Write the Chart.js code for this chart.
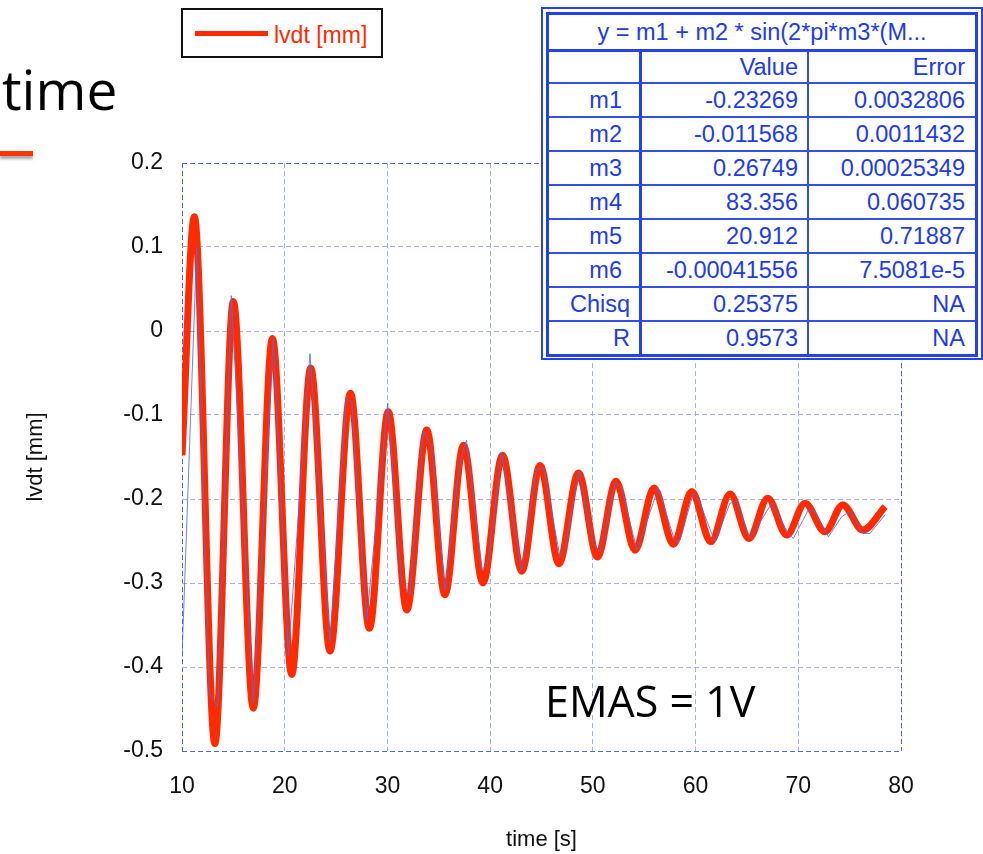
<!DOCTYPE html>
<html>
<head>
<meta charset="utf-8">
<script src="https://cdn.jsdelivr.net/npm/chart.js@4.4.1/dist/chart.umd.min.js"></script>
<style>
html, body { margin: 0; padding: 0; background: #fff; }
#wrap { position: relative; width: 983px; height: 854px; overflow: hidden; background: #fff; }
#chart { position: absolute; left: 0; top: 0; }
#slideTitle { position: absolute; left: 2px; top: 61px; font-family: "Open Sans", sans-serif; font-size: 55px; line-height: 55px; color: #000; white-space: nowrap; }
#slideBar { position: absolute; left: 0; top: 151px; width: 33px; height: 5px; background: #ff3300; box-shadow: 0 3px 3px rgba(0,0,0,0.35); }
#note { position: absolute; left: 545px; top: 679px; font-family: "Open Sans", sans-serif; font-size: 43px; line-height: 43px; color: #000; white-space: nowrap; }
#legend { position: absolute; left: 181px; top: 8px; width: 202px; height: 50px; box-sizing: border-box; border: 2px solid #111; background: #fff; }
#legend .swatch { position: absolute; left: 12px; top: 21px; width: 73px; height: 5px; background: #ff2a00; }
#legend .txt { position: absolute; left: 91px; top: 14px; font-family: "Liberation Sans", Arial, sans-serif; font-size: 23px; line-height: 23px; color: #ff2a00; white-space: nowrap; }
#fitbox { position: absolute; left: 541px; top: 7px; width: 442px; box-sizing: border-box; border: 2px solid #2442e8; padding: 3px 3px 1px 3px; background: #fff; }
#fitbox table { width: 100%; border: 3px solid #2442e8; border-collapse: separate; border-spacing: 0; table-layout: fixed; font-family: "Liberation Sans", Arial, sans-serif; font-size: 23.5px; color: #1e3ce6; }
#fitbox td { box-sizing: border-box; padding: 0 9px 0 0; text-align: right; white-space: nowrap; overflow: hidden; border-bottom: 2px solid #3150ea; }
#fitbox td.c1 { border-right: 3px solid #2442e8; }
#fitbox td.c2 { border-right: 2px solid #3150ea; }
#fitbox td.c3 { padding-right: 10px; }
#fitbox td.head { text-align: center; padding: 0; border-bottom: 3px solid #2442e8; height: 37px; }
#fitbox tr.last td { border-bottom: none; }
</style>
</head>
<body>
<div id="wrap">
  <canvas id="chart" width="983" height="854"></canvas>
  <div id="slideTitle">time</div>
  <div id="slideBar"></div>
  <div id="legend"><div class="swatch"></div><div class="txt">lvdt [mm]</div></div>
  <div id="fitbox"><table id="fitTable"></table></div>
  <div id="note">EMAS = 1V</div>
</div>
<script>
// ---- fitted curve (thick red) at extremes ----
const fitTime = [10.0, 11.2, 13.2, 15.0, 16.94, 18.8, 20.68, 22.53, 24.41, 26.4, 28.24, 30.08, 31.88, 33.83, 35.6, 37.4, 39.3, 41.2, 43.08, 44.86, 46.7, 48.6, 50.44, 52.26, 54.1, 55.96, 57.84, 59.63, 61.48, 63.36, 65.2, 67.03, 68.88, 70.66, 72.6, 74.33, 76.28, 78.45];
const fitLvdt = [-0.148, 0.136, -0.491, 0.035, -0.449, -0.009, -0.409, -0.044, -0.381, -0.074, -0.354, -0.096, -0.332, -0.118, -0.314, -0.136, -0.300, -0.148, -0.286, -0.160, -0.277, -0.169, -0.269, -0.179, -0.261, -0.187, -0.254, -0.191, -0.251, -0.194, -0.247, -0.199, -0.243, -0.205, -0.239, -0.207, -0.237, -0.209];

// ---- measured data (thin blue) ----
const dataTime = [10.0, 11.43, 12.66, 13.48, 14.8, 16.94, 18.9, 20.35, 22.46, 24.41, 25.97, 26.52, 27.98, 30.03, 31.39, 32.2, 33.5, 34.3, 35.6, 37.07, 37.7, 39.2, 39.8, 41.1, 43.07, 44.5, 45.2, 46.8, 47.3, 48.65, 50.05, 50.7, 52.16, 52.81, 54.27, 54.91, 56.37, 58.0, 58.49, 59.78, 60.43, 61.89, 63.35, 64.0, 65.3, 67.41, 69.03, 69.52, 70.98, 71.63, 72.93, 74.23, 75.04, 76.33, 76.98, 78.44];
const dataLvdt = [-0.388, 0.100, -0.431, -0.447, 0.042, -0.443, -0.009, -0.386, -0.027, -0.370, -0.081, -0.084, -0.344, -0.086, -0.300, -0.314, -0.118, -0.138, -0.308, -0.154, -0.130, -0.285, -0.275, -0.144, -0.285, -0.165, -0.163, -0.269, -0.257, -0.167, -0.253, -0.263, -0.181, -0.187, -0.260, -0.239, -0.187, -0.251, -0.249, -0.193, -0.205, -0.251, -0.205, -0.203, -0.247, -0.205, -0.241, -0.247, -0.213, -0.215, -0.245, -0.221, -0.215, -0.241, -0.241, -0.219];

// ---- axes ----
const xTicks = [10, 20, 30, 40, 50, 60, 70, 80];
const xTickLabels = ['10', '20', '30', '40', '50', '60', '70', '80'];
const yTicks = [-0.5, -0.4, -0.3, -0.2, -0.1, 0, 0.1, 0.2];
const yTickLabels = ['-0.5', '-0.4', '-0.3', '-0.2', '-0.1', '0', '0.1', '0.2'];

// ---- fit result table ----
const fitFormula = 'y = m1 + m2 * sin(2*pi*m3*(M...';
const paramNames = ['m1', 'm2', 'm3', 'm4', 'm5', 'm6', 'Chisq', 'R'];
const paramValues = ['-0.23269', '-0.011568', '0.26749', '83.356', '20.912', '-0.00041556', '0.25375', '0.9573'];
const paramErrors = ['0.0032806', '0.0011432', '0.00025349', '0.060735', '0.71887', '7.5081e-5', 'NA', 'NA'];

// build table
(function () {
  const t = document.getElementById('fitTable');
  const cg = document.createElement('colgroup');
  [93, 167, 166].forEach(w => { const c = document.createElement('col'); c.style.width = w + 'px'; cg.appendChild(c); });
  t.appendChild(cg);
  const h = document.createElement('tr');
  const hc = document.createElement('td'); hc.colSpan = 3; hc.className = 'head'; hc.textContent = fitFormula;
  h.appendChild(hc); t.appendChild(h);
  const addRow = (a, b, c, height, last, indent) => {
    const tr = document.createElement('tr'); if (last) tr.className = 'last';
    [a, b, c].forEach((txt, i) => {
      const td = document.createElement('td'); td.className = 'c' + (i + 1); td.textContent = txt;
      td.style.height = height + 'px';
      if (i === 0 && indent) td.style.paddingRight = '17px';
      tr.appendChild(td);
    });
    t.appendChild(tr);
  };
  addRow('', 'Value', 'Error', 32, false, false);
  paramNames.forEach((n, i) => addRow(n, paramValues[i], paramErrors[i], i === paramNames.length - 1 ? 32 : 34, i === paramNames.length - 1, /^m\d$/.test(n)));
})();

const FONT = '"Liberation Sans", Arial, sans-serif';
const EDGE = '#4d66ea';
const GRID = '#a4b2f3';

new Chart(document.getElementById('chart').getContext('2d'), {
  type: 'line',
  data: {
    datasets: [
      {
        label: 'data',
        data: dataTime.map((t, i) => ({ x: t, y: dataLvdt[i] })),
        borderColor: 'rgba(88,104,232,0.85)',
        borderWidth: 1,
        pointRadius: 0,
        tension: 0,
        order: 0
      },
      {
        label: 'lvdt [mm]',
        data: fitTime.map((t, i) => ({ x: t, y: fitLvdt[i] })),
        borderColor: '#ff2a00',
        borderWidth: 7,
        pointRadius: 0,
        cubicInterpolationMode: 'monotone',
        borderJoinStyle: 'round',
        borderCapStyle: 'butt',
        clip: { left: 0, top: 6, right: 6, bottom: 6 },
        order: 1
      }
    ]
  },
  options: {
    responsive: false,
    animation: false,
    devicePixelRatio: 1,
    layout: { padding: { top: 163, right: 82, bottom: 0, left: 0 } },
    plugins: { legend: { display: false }, tooltip: { enabled: false } },
    scales: {
      x: {
        type: 'linear', min: 10, max: 80,
        afterBuildTicks: s => { s.ticks = xTicks.map(v => ({ value: v })); },
        afterFit: s => { s.height = 103; },
        ticks: { callback: (v, i) => xTickLabels[i], padding: 22, font: { family: FONT, size: 23 }, color: '#111', maxRotation: 0, autoSkip: false },
        grid: { drawTicks: false, lineWidth: 1, color: c => (c.tick && (c.tick.value === 10 || c.tick.value === 80)) ? EDGE : GRID },
        border: { display: false, dash: [5, 3] },
        title: { display: true, text: 'time [s]', font: { family: FONT, size: 22 }, color: '#111', padding: { top: 0, bottom: 1 } }
      },
      y: {
        type: 'linear', min: -0.5, max: 0.2,
        afterBuildTicks: s => { s.ticks = yTicks.map(v => ({ value: v })); },
        afterFit: s => { s.width = 182; },
        ticks: { callback: (v, i) => yTickLabels[i], padding: 19, font: { family: FONT, size: 23 }, color: '#111', autoSkip: false },
        grid: { drawTicks: false, lineWidth: 1, color: c => (c.tick && (Math.abs(c.tick.value + 0.5) < 1e-6 || Math.abs(c.tick.value - 0.2) < 1e-6)) ? EDGE : GRID },
        border: { display: false, dash: [5, 3] },
        title: { display: true, text: 'lvdt [mm]', font: { family: FONT, size: 22 }, color: '#111', padding: { top: 23, bottom: 0 } }
      }
    }
  }
});
</script>
</body>
</html>
